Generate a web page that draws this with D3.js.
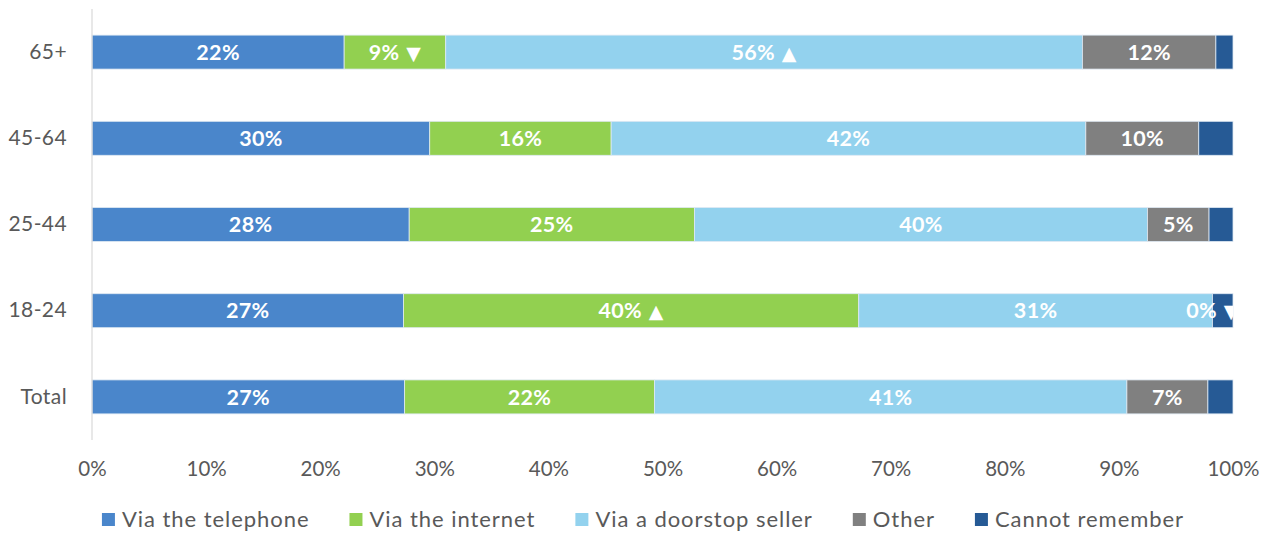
<!DOCTYPE html>
<html>
<head>
<meta charset="utf-8">
<script src="https://cdn.jsdelivr.net/npm/d3@7"></script>
<style>
  body { margin: 0; background: #fff; }
  svg { display: block; }
</style>
</head>
<body>
<svg id="chart" width="1274" height="536"></svg>
<script>
// ---- data ----
const categories = ["65+", "45-64", "25-44", "18-24", "Total"];
const seriesNames = ["Via the telephone", "Via the internet", "Via a doorstop seller", "Other", "Cannot remember"];
const telephone = [22.1, 29.6, 27.8, 27.3, 27.4];
const internet  = [8.9, 15.9, 25.0, 39.9, 21.9];
const doorstop  = [55.8, 41.6, 39.7, 31.0, 41.4];
const other     = [11.7, 9.9, 5.4, 0.0, 7.1];
const cannot    = [1.5, 3.0, 2.1, 1.8, 2.2];
// significance markers per series (index matches categories)
const internetMarks = ["▼", "", "", "▲", ""];
const doorstopMarks = ["▲", "", "", "", ""];
const otherMarks    = ["", "", "", "▼", ""];
const showLabel = [true, true, true, true, false];
const xTicks = [0, 10, 20, 30, 40, 50, 60, 70, 80, 90, 100];
const colors = ["#4A86CB", "#92D050", "#93D2EE", "#808080", "#265A95"];

const seriesValues = [telephone, internet, doorstop, other, cannot];
const seriesMarks = [["", "", "", "", ""], internetMarks, doorstopMarks, otherMarks, ["", "", "", "", ""]];

(function () {
// ---- layout ----
const svg = d3.select("#chart");
const mLeft = 92, mRight = 1233, mTop = 9, mBottom = 440;
const x = d3.scaleLinear().domain([0, 100]).range([mLeft, mRight]);
const y = d3.scaleBand().domain(categories).range([mTop, mBottom]).paddingInner(0.606).paddingOuter(0.303);
const font = "Lato, 'Open Sans', sans-serif";

const rows = categories.map((c, i) => {
  let acc = 0;
  return seriesNames.map((s, j) => {
    const v = seriesValues[j][i];
    const seg = { cat: c, series: j, x0: acc, x1: acc + v, v, mark: seriesMarks[j][i] };
    acc += v;
    return seg;
  });
});
const segs = rows.flat();

svg.append("defs").append("clipPath").attr("id", "plotclip")
  .append("rect").attr("x", mLeft).attr("y", 0).attr("width", mRight - mLeft).attr("height", 450);

// bars
svg.append("g").selectAll("rect").data(segs).join("rect")
  .attr("x", d => x(d.x0))
  .attr("y", d => y(d.cat))
  .attr("width", d => x(d.x1) - x(d.x0))
  .attr("height", y.bandwidth())
  .attr("fill", d => colors[d.series])
  .attr("stroke", "#dfe9f3")
  .attr("stroke-width", 0.8);

// axis line (category axis)
svg.append("line").attr("x1", mLeft).attr("x2", mLeft).attr("y1", mTop).attr("y2", mBottom)
  .attr("stroke", "#d9d9d9").attr("stroke-width", 1.2);

// bar labels
const lab = svg.append("g").attr("clip-path", "url(#plotclip)")
  .selectAll("text").data(segs.filter(d => showLabel[d.series])).join("text")
  .attr("x", d => (x(d.x0) + x(d.x1)) / 2)
  .attr("y", d => y(d.cat) + y.bandwidth() / 2)
  .attr("dy", "0.36em")
  .attr("text-anchor", "middle")
  .attr("fill", "#fff")
  .attr("font-family", font)
  .attr("font-weight", "bold")
  .attr("font-size", 21.5)
  .attr("letter-spacing", 0.3);
lab.append("tspan").text(d => Math.round(d.v) + "%");
lab.filter(d => d.mark).append("tspan")
  .attr("font-family", "'DejaVu Sans', sans-serif")
  .attr("font-size", 19)
  .text(d => "\u00a0" + d.mark);

// category labels
const yAxis = d3.axisLeft(y).tickSize(0).tickPadding(25);
const gy = svg.append("g").attr("transform", `translate(${mLeft},0)`).call(yAxis);
gy.select(".domain").remove();
gy.selectAll("text").attr("font-family", font)
  .attr("font-size", 21).attr("letter-spacing", 0.4).attr("fill", "#595959");

// x axis labels
const xAxis = d3.axisBottom(x).tickValues(xTicks).tickFormat(d => d + "%").tickSize(0).tickPadding(21);
const gx = svg.append("g").attr("transform", `translate(0,${mBottom})`).call(xAxis);
gx.select(".domain").remove();
gx.selectAll("text").attr("font-family", font)
  .attr("font-size", 20.5).attr("fill", "#595959");

// legend
const legend = svg.append("g");
const items = legend.selectAll("g").data(seriesNames).join("g");
items.append("rect").attr("width", 13).attr("height", 13).attr("y", -6)
  .attr("fill", (d, i) => colors[i]);
items.append("text").attr("x", 20).attr("dy", "0.35em")
  .attr("font-family", font).attr("letter-spacing", 0.95)
  .attr("font-size", 22).attr("fill", "#595959").text(d => d);
let pos = 0;
const widths = [];
items.each(function () { widths.push(this.getBBox().width); });
const gap = 40;
const total = d3.sum(widths) + gap * (widths.length - 1);
const startX = 643 - total / 2;
items.attr("transform", (d, i) => {
  const t = `translate(${startX + pos},519)`;
  pos += widths[i] + gap;
  return t;
});
})();
</script>
</body>
</html>
